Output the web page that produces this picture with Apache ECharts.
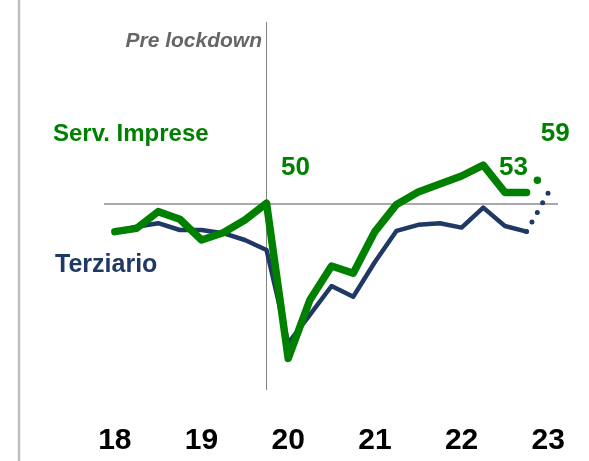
<!DOCTYPE html>
<html>
<head>
<meta charset="utf-8">
<script src="https://cdn.jsdelivr.net/npm/echarts@6/dist/echarts.min.js"></script>
<style>
    html, body { margin: 0; padding: 0; background: #fff; }
    #chart { width: 589px; height: 461px; }
</style>
</head>
<body>
<div id="chart"></div>
<script>
// quarters 2018Q1 .. 2023Q1
const quarters = ['18Q1', '18Q2', '18Q3', '18Q4', '19Q1', '19Q2', '19Q3', '19Q4',
    '20Q1', '20Q2', '20Q3', '20Q4', '21Q1', '21Q2', '21Q3', '21Q4',
    '22Q1', '22Q2', '22Q3', '22Q4', '23Q1'];
const yearLabels = ['18', '19', '20', '21', '22', '23'];
const yearTickIdx = [0, 4, 8, 12, 16, 20];

// Serv. Imprese (green), up to 22Q4
const servImprese = [43.1, 43.9, 48.1, 46.2, 41.0, 42.8, 46.0, 50.2,
    11.4, 26.0, 34.5, 32.7, 43.1, 49.9, 53.0, 55.0, 57.0, 59.7, 52.9, 52.9];
// Terziario (navy), up to 22Q4
const terziario = [43.0, 44.3, 45.2, 43.5, 43.5, 42.7, 41.0, 38.5,
    15.2, 22.3, 29.5, 26.8, 35.5, 43.3, 44.8, 45.2, 44.1, 49.1, 44.5, 43.1];
// dotted projections 22Q4 -> 23Q1
const servImpreseProj = [52.9, 59];
const terziarioProj = [43.1, 52.8];

const refLevel = 50;
const lockdownIdx = 7;

const GREEN = '#008000';
const NAVY = '#1f3864';
const FONT = '"Liberation Sans", Arial, sans-serif';

const pairs = (arr, start) => arr.map((v, i) => [start + i, v]);

const labelAt = (offset) => ({
    show: true,
    position: 'inside',
    offset: offset,
    formatter: p => Math.round(p.value[1]),
    color: GREEN,
    fontFamily: FONT,
    fontWeight: 'bold',
    fontSize: 26
});

const greenData = pairs(servImprese, 0).map((d, i) => {
    if (i === 7) return { value: d, label: labelAt([29, -35]) };
    if (i === 19) return { value: d, label: labelAt([-13, -25]) };
    return d;
});
const greenProj = pairs(servImpreseProj, 19).map((d, i) =>
    i === 1 ? { value: d, label: labelAt([7, -34]) } : d);

const chart = echarts.init(document.getElementById('chart'));
chart.setOption({
    animation: false,
    backgroundColor: '#fff',
    grid: { left: 104, right: 31, top: 4, bottom: 57 },
    xAxis: {
        type: 'value',
        min: -0.5,
        max: 20.45,
        axisLine: { show: false },
        axisTick: { show: false },
        splitLine: { show: false },
        axisLabel: {
            customValues: yearTickIdx,
            formatter: v => yearLabels[yearTickIdx.indexOf(v)],
            margin: 22,
            color: '#000',
            fontFamily: FONT,
            fontWeight: 'bold',
            fontSize: 30
        }
    },
    yAxis: { type: 'value', min: 0, max: 100, show: false },
    series: [
        {
            type: 'line',
            data: [[-0.5, refLevel], [20.45, refLevel]],
            symbol: 'none',
            silent: true,
            z: 1,
            lineStyle: { color: '#8c8c8c', width: 1.5 }
        },
        {
            type: 'line',
            data: [[lockdownIdx, 95.5], [lockdownIdx, 3.5]],
            symbol: 'none',
            silent: true,
            z: 1,
            lineStyle: { color: '#808080', width: 1 }
        },
        {
            name: 'Terziario',
            type: 'line',
            data: pairs(terziario, 0),
            symbol: 'none',
            z: 2,
            lineStyle: { color: NAVY, width: 4.5, join: 'round', cap: 'round' }
        },
        {
            type: 'line',
            data: pairs(terziarioProj, 19),
            symbol: 'none',
            z: 2,
            lineStyle: { color: NAVY, width: 5, type: [0, 11], cap: 'round' }
        },
        {
            name: 'Serv. Imprese',
            type: 'line',
            data: greenData,
            symbol: 'circle',
            symbolSize: 0.01,
            showSymbol: true,
            z: 3,
            itemStyle: { color: GREEN },
            lineStyle: { color: GREEN, width: 7.5, join: 'round', cap: 'round' }
        },
        {
            type: 'line',
            data: greenProj,
            symbol: 'circle',
            symbolSize: 0.01,
            showSymbol: true,
            z: 3,
            itemStyle: { color: GREEN },
            lineStyle: { color: GREEN, width: 7.5, type: [0, 40], dashOffset: 23.75, cap: 'round' }
        }
    ],
    graphic: [
        {
            type: 'line',
            shape: { x1: 19, y1: 0, x2: 19, y2: 461 },
            style: { stroke: '#bfbfbf', lineWidth: 2.5 }
        },
        {
            type: 'text',
            x: 262, y: 41,
            style: {
                text: 'Pre lockdown', align: 'right', verticalAlign: 'middle',
                fontFamily: FONT, fontStyle: 'italic', fontWeight: 'bold', fontSize: 21,
                fill: '#666'
            }
        },
        {
            type: 'text',
            x: 53, y: 134,
            style: {
                text: 'Serv. Imprese', align: 'left', verticalAlign: 'middle',
                fontFamily: FONT, fontWeight: 'bold', fontSize: 24, fill: GREEN
            }
        },
        {
            type: 'text',
            x: 55, y: 265,
            style: {
                text: 'Terziario', align: 'left', verticalAlign: 'middle',
                fontFamily: FONT, fontWeight: 'bold', fontSize: 25, fill: NAVY
            }
        }
    ]
});
</script>
</body>
</html>
